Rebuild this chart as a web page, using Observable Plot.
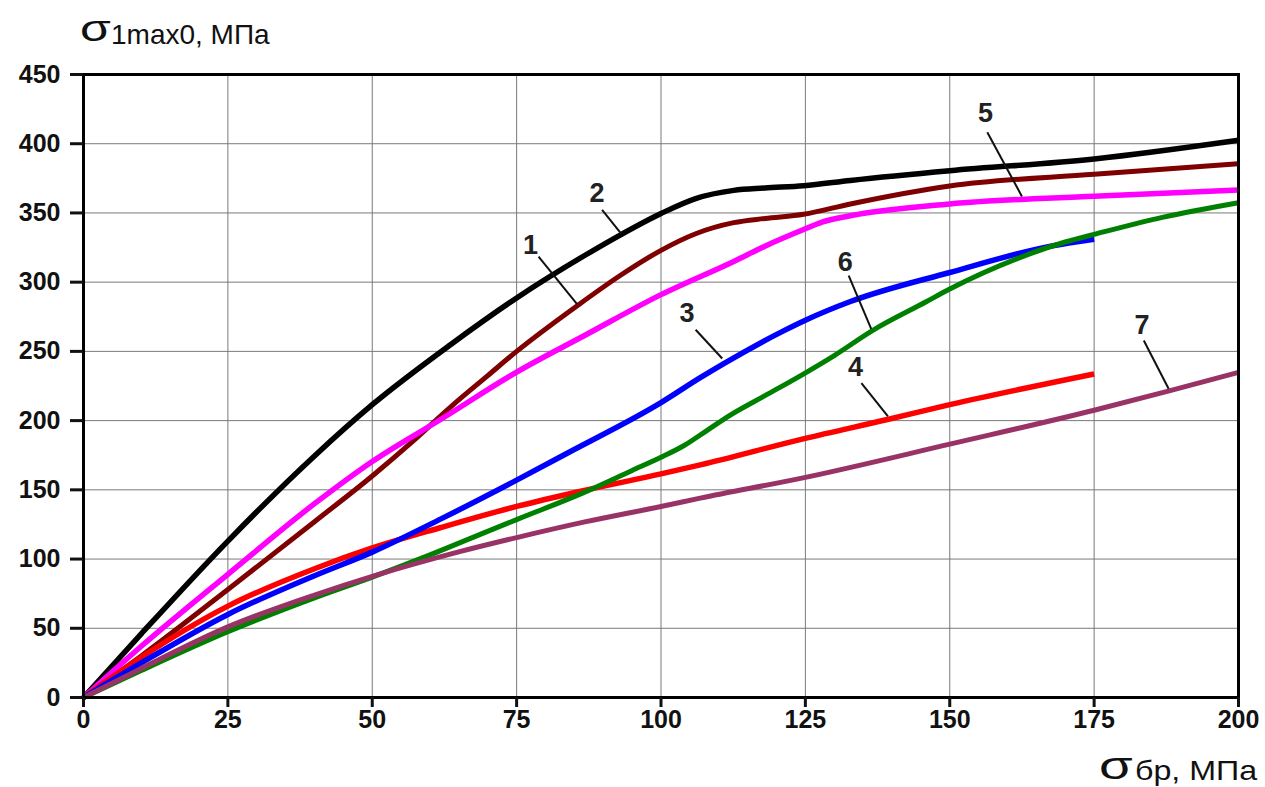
<!DOCTYPE html>
<html>
<head>
<meta charset="utf-8">
<script src="https://cdn.jsdelivr.net/npm/d3@7"></script>
<script src="https://cdn.jsdelivr.net/npm/@observablehq/plot@0.6"></script>
<style>
  html, body { margin: 0; padding: 0; background: #fff; }
  #wrap { position: relative; width: 1265px; height: 787px; font-family: "Liberation Sans", Arial, sans-serif; color: #111; }
  #wrap svg { position: absolute; left: 0; top: 0; }
  .t { position: absolute; white-space: nowrap; line-height: 1; transform-origin: left top; }
</style>
</head>
<body>
<div id="wrap">
  <div class="t" style="left:80px; top:10px; font-size:37px; transform:scaleX(1.35);">σ</div>
  <div class="t" style="left:111px; top:21px; font-size:28px;">1max0, МПа</div>
  <div class="t" style="left:1099px; top:746px; font-size:39px; transform:scaleX(1.4);">σ</div>
  <div class="t" style="left:1135px; top:757px; font-size:28px; transform:scaleX(1.15);">бр, МПа</div>
</div>
<script>
const xTicks = [0, 25, 50, 75, 100, 125, 150, 175, 200];
const yTicks = [0, 50, 100, 150, 200, 250, 300, 350, 400, 450];

// Curve 1 (maroon)
const c1x = [0, 10, 25, 40, 50, 57, 63.6, 70, 75, 85.5, 93, 100, 106, 112.6, 118, 124.7, 132.8, 150, 175, 200];
const c1y = [0, 30, 78, 127, 160, 185, 210, 232.5, 250, 283, 305, 323, 335, 343, 346, 349, 356.5, 369.5, 378, 385.6];
// Curve 2 (black)
const c2x = [0, 10, 25, 40, 50, 63.6, 75, 87, 93, 100, 106, 112.6, 118, 124.7, 132.8, 150, 175, 200];
const c2y = [0, 46, 113, 174.5, 211.5, 255, 288.6, 319.8, 334.2, 349.6, 360.4, 366.3, 368, 369.7, 373.5, 380.5, 389, 402.5];
// Curve 3 (blue)
const c3x = [0, 10, 25, 40, 50, 61.9, 75, 84, 100, 106.8, 110.8, 121.3, 125, 132.8, 150, 167.5, 175];
const c3y = [0, 25, 60, 88, 105, 129, 157, 177, 213, 231, 241, 265, 272.5, 286, 307, 326, 331];
// Curve 4 (red)
const c4x = [0, 10, 25, 40, 50, 61.9, 75, 86.1, 100, 106.8, 124.8, 139.4, 150, 175];
const c4y = [0, 29, 66, 93, 108, 122.8, 138, 149, 161.5, 168, 187, 201, 211.5, 233.7];
// Curve 5 (magenta)
const c5x = [0, 10, 25, 40, 50, 61.9, 75, 87, 100, 112.6, 118, 124.7, 128, 132.8, 150, 175, 200];
const c5y = [0, 37, 89, 140, 170.5, 201, 235, 262, 291, 315, 326, 338, 343.5, 348, 356.5, 362, 366.5];
// Curve 6 (green)
const c6x = [0, 10, 25, 40, 50, 60, 68.8, 75, 86.6, 95, 100, 104, 108, 112, 118, 124.8, 130, 136.6, 146, 150, 161.7, 170, 175, 187, 200];
const c6y = [0, 19.5, 47.5, 72, 87, 103, 118, 128.5, 148, 164, 173.5, 182, 193, 204, 218, 234, 247, 265, 286, 295, 317, 329, 334.5, 347, 357.4];
// Curve 7 (purple)
const c7x = [0, 10, 25, 40, 50, 65.3, 75, 87, 100, 106.8, 125, 150, 175, 188, 200];
const c7y = [0, 21, 51, 74, 87.5, 105.5, 115.5, 127, 138, 144, 159, 183, 207.5, 221.5, 234.9];

const curveNames = ["2", "1", "5", "4", "3", "6", "7"];
const curveColors = ["#000000", "#7f0000", "#ff00ff", "#ff0000", "#0000ff", "#008000", "#993366"];
const curveWidths = [5.5, 5, 5.5, 5.5, 5.5, 5, 5];
const curveXs = [c2x, c1x, c5x, c4x, c3x, c6x, c7x];
const curveYs = [c2y, c1y, c5y, c4y, c3y, c6y, c7y];

// Number labels and their leader lines
const labelText = ["1", "2", "3", "4", "5", "6", "7"];
const labelX = [77.4, 88.9, 104.5, 133.7, 156.2, 131.9, 183.3];
const labelY = [326.5, 363.8, 277.2, 238.2, 421.6, 314.4, 268.7];
const leadX1 = [78.8, 89.8, 106.0, 134.7, 156.5, 132.5, 183.6];
const leadY1 = [318.5, 352.3, 265.6, 227.0, 408.3, 304.8, 257.9];
const leadX2 = [85.5, 93.1, 110.6, 139.3, 162.5, 136.4, 187.9];
const leadY2 = [283.9, 335.0, 244.9, 203.0, 361.9, 266.3, 223.0];

const lineMarks = curveNames.map((name, i) => {
  const pts = curveXs[i].map((x, j) => ({x, y: curveYs[i][j]}));
  return Plot.line(pts, {x: "x", y: "y", stroke: curveColors[i], strokeWidth: curveWidths[i], curve: "monotone-x", strokeLinecap: "butt", strokeLinejoin: "round"});
});

const labels = labelText.map((t, i) => ({t, x: labelX[i], y: labelY[i], x1: leadX1[i], y1: leadY1[i], x2: leadX2[i], y2: leadY2[i]}));

const chart = Plot.plot({
  width: 1265,
  height: 787,
  marginLeft: 83,
  marginRight: 27,
  marginTop: 74,
  marginBottom: 90,
  style: {fontFamily: "'Liberation Sans', Arial, sans-serif", fontSize: "25px", fontWeight: "bold", color: "#111", background: "transparent"},
  x: {domain: [0, 200], label: null},
  y: {domain: [0, 450], label: null},
  marks: [
    Plot.gridX(xTicks, {stroke: "#7a7a7a", strokeOpacity: 1, strokeWidth: 1}),
    Plot.gridY(yTicks, {stroke: "#7a7a7a", strokeOpacity: 1, strokeWidth: 1}),
    ...lineMarks,
    Plot.link(labels, {x1: "x1", y1: "y1", x2: "x2", y2: "y2", stroke: "#111", strokeWidth: 2}),
    Plot.text(labels, {x: "x", y: "y", text: "t", fill: "#222", fontSize: 27, fontWeight: "bold"}),
    Plot.frame({stroke: "#000", strokeWidth: 3}),
    Plot.axisX(xTicks, {tickSize: 10, tickPadding: 3, strokeWidth: 3, label: null, fontSize: 25, fontWeight: "bold", fill: "#111"}),
    Plot.axisY(yTicks, {tickSize: 13, tickPadding: 10, strokeWidth: 3, label: null, fontSize: 25, fontWeight: "bold", fill: "#111"})
  ]
});
document.getElementById("wrap").prepend(chart);
</script>
</body>
</html>
